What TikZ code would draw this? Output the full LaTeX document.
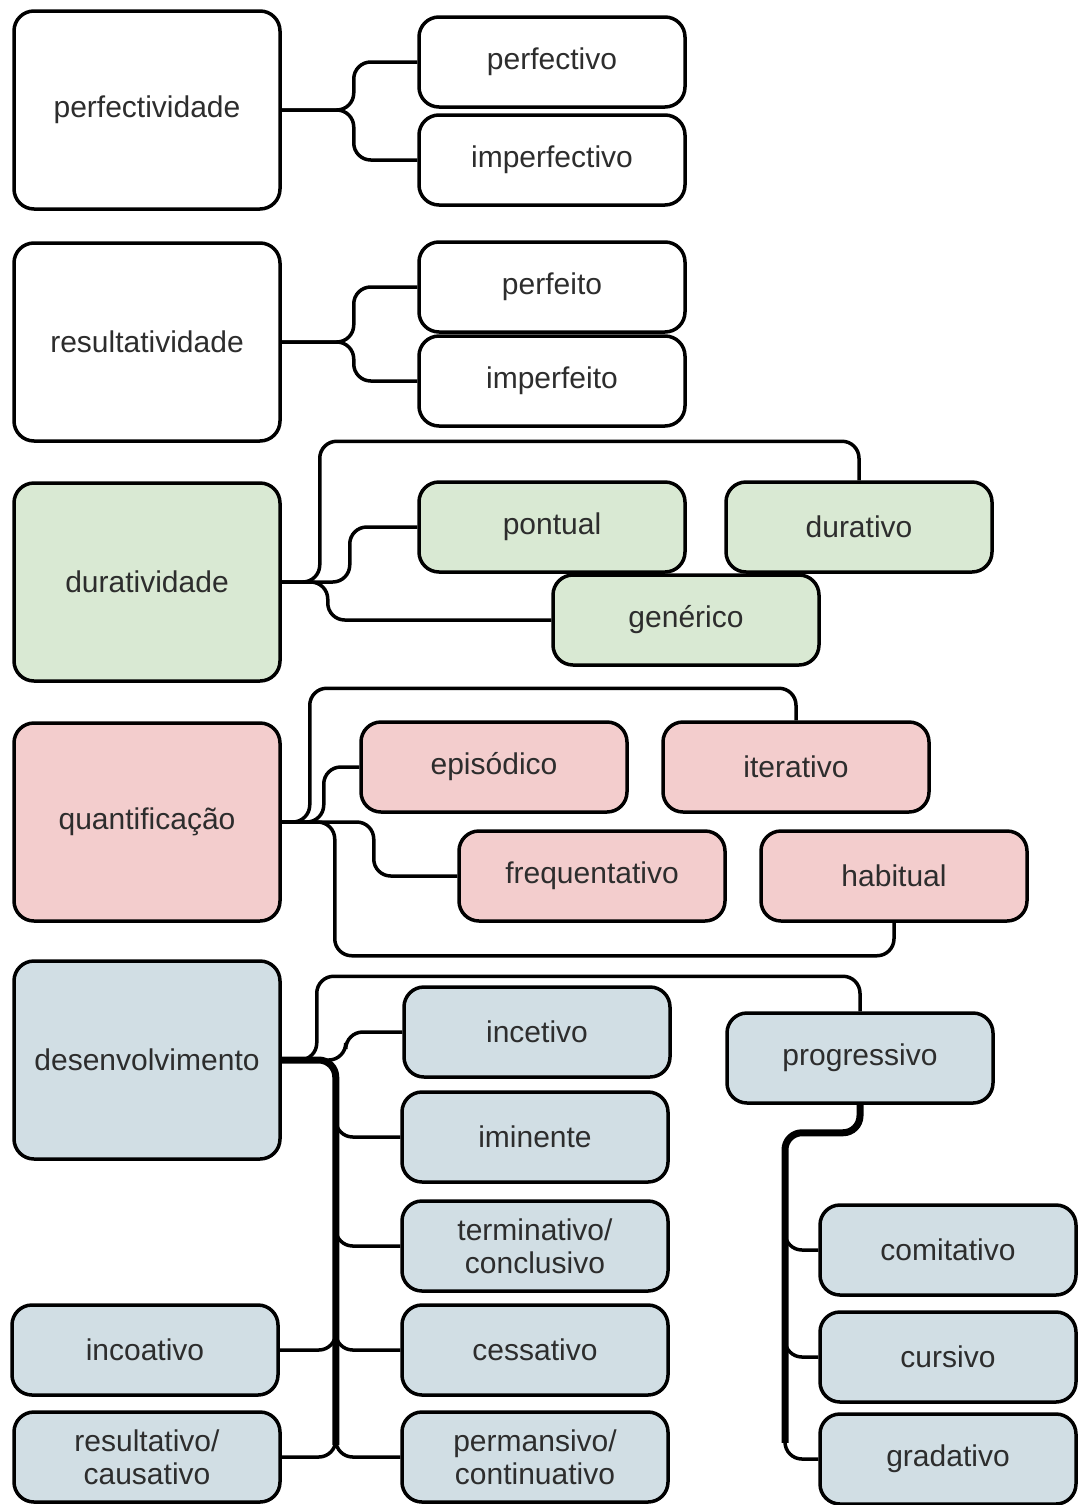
\documentclass[tikz,border=0pt]{standalone}
\usepackage{fontspec}
\setmainfont{Liberation Sans}
\usetikzlibrary{backgrounds}
\definecolor{gfill}{RGB}{217,233,211}
\definecolor{pfill}{RGB}{243,205,205}
\definecolor{bfill}{RGB}{209,222,228}
\definecolor{txt}{RGB}{45,45,45}
\begin{document}
\begin{tikzpicture}[x=1pt,y=-1pt,
 box/.style={draw=black, line width=3.5pt, rounded corners=20pt, inner sep=0pt, align=center,
   text=txt, font=\fontsize{30}{33}\selectfont, minimum width=266pt, minimum height=90pt},
 big/.style={minimum height=198pt},
 gbox/.style={box, fill=gfill},
 pbox/.style={box, fill=pfill},
 bbox/.style={box, fill=bfill},
 conn/.style={line width=3.5pt, rounded corners=17pt},
 tconn/.style={line width=7pt, rounded corners=17pt}]
\useasboundingbox (0,0) rectangle (1079,1505);

% row 1
\node[box, big] (perfectividade) at (147,110) {perfectividade};
\node[box] (perfectivo) at (552,62) {perfectivo};
\node[box] (imperfectivo) at (552,160) {imperfectivo};
% row 2
\node[box, big] (resultatividade) at (147,342) {resultatividade};
\node[box] (perfeito) at (552,287) {perfeito};
\node[box] (imperfeito) at (552,381) {imperfeito};
% row 3
\node[gbox, big] (duratividade) at (147,582) {duratividade};
\node[gbox] (pontual) at (552,527) {pontual};
\node[gbox] (durativo) at (859,527) {durativo};
\node[gbox] (generico) at (686,620) {genérico};
% row 4
\node[pbox, big] (quantificacao) at (147,822) {quantificação};
\node[pbox] (episodico) at (494,767) {episódico};
\node[pbox] (iterativo) at (796,767) {iterativo};
\node[pbox] (frequentativo) at (592,876) {frequentativo};
\node[pbox] (habitual) at (894,876) {habitual};
% row 5
\node[bbox, big] (desenvolvimento) at (147,1060) {desenvolvimento};
\node[bbox] (incetivo) at (537,1032) {incetivo};
\node[bbox] (iminente) at (535,1137) {iminente};
\node[bbox] (terminativo) at (535,1246) {terminativo/\\conclusivo};
\node[bbox] (cessativo) at (535,1350) {cessativo};
\node[bbox] (permansivo) at (535,1457) {permansivo/\\continuativo};
\node[bbox] (progressivo) at (860,1058) {progressivo};
\node[bbox, minimum width=256pt] (comitativo) at (948,1250) {comitativo};
\node[bbox, minimum width=256pt] (cursivo) at (948,1357) {cursivo};
\node[bbox, minimum width=256pt] (gradativo) at (948,1459) {gradativo};
\node[bbox] (incoativo) at (145,1350) {incoativo};
\node[bbox] (resultativo) at (147,1457) {resultativo/\\causativo};

\begin{scope}[on background layer]
\fill[white] (0,0) rectangle (1079,1505);
% row 1
\draw[conn] (perfectividade.east) -- ++(72,0) |- (perfectivo.west);
\draw[conn] (perfectividade.east) -- ++(72,0) |- (imperfectivo.west);
% row 2
\draw[conn] (resultatividade.east) -- ++(72,0) |- (perfeito.west);
\draw[conn] (resultatividade.east) -- ++(72,0) |- (imperfeito.west);
% row 3
\draw[conn] (duratividade.east) -- ++(68,0) |- (pontual.west);
\draw[conn] (duratividade.east) -- ++(38,0) |- ([yshift=39pt]durativo.north) -- (durativo.north);
\draw[conn] (duratividade.east) -- ++(46,0) |- (generico.west);
% row 4
\draw[conn] (quantificacao.east) -- ++(42,0) |- (episodico.west);
\draw[conn] (quantificacao.east) -- ++(28,0) |- ([yshift=32pt]iterativo.north) -- (iterativo.north);
\draw[conn] (quantificacao.east) -- ++(92,0) |- (frequentativo.west);
\draw[conn] (quantificacao.east) -- ++(53,0) |- ([yshift=-33pt]habitual.south) -- (habitual.south);
% row 5
\draw[conn] (desenvolvimento.east) -- ++(35,0) |- ([yshift=35pt]progressivo.north) -- (progressivo.north);
\draw[conn] (desenvolvimento.east) -- ++(64,0) |- (incetivo.west);
\draw[tconn] (desenvolvimento.east) -- ++(54,0) -- ++(0,385);
\draw[conn] (desenvolvimento.east) -- ++(54,0) |- (iminente.west);
\draw[conn] (desenvolvimento.east) -- ++(54,0) |- (terminativo.west);
\draw[conn] (desenvolvimento.east) -- ++(54,0) |- (cessativo.west);
\draw[conn] (desenvolvimento.east) -- ++(54,0) |- (permansivo.west);
\draw[conn] (desenvolvimento.east) -- ++(54,0) |- (incoativo.east);
\draw[conn] (desenvolvimento.east) -- ++(54,0) |- (resultativo.east);
% progressivo subtree
\draw[tconn] (progressivo.south) -- ++(0,28) -- ++(-75,0) -- ++(0,310);
\draw[conn] (progressivo.south) -- ++(0,28) -- ++(-75,0) |- (comitativo.west);
\draw[conn] (progressivo.south) -- ++(0,28) -- ++(-75,0) |- (cursivo.west);
\draw[conn] (progressivo.south) -- ++(0,28) -- ++(-75,0) |- (gradativo.west);
\end{scope}
\end{tikzpicture}
\end{document}
